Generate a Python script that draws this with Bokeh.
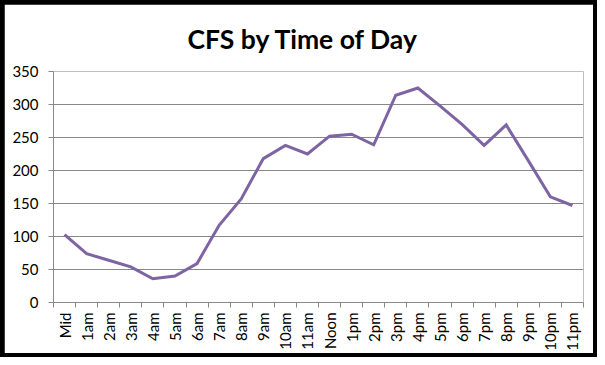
import math
from bokeh.plotting import figure
from bokeh.layouts import column
from bokeh.models import Range1d, FixedTicker
from bokeh.embed import file_html
from bokeh.resources import INLINE

hours = ["Mid", "1am", "2am", "3am", "4am", "5am", "6am", "7am", "8am", "9am",
         "10am", "11am", "Noon", "1pm", "2pm", "3pm", "4pm", "5pm", "6pm",
         "7pm", "8pm", "9pm", "10pm", "11pm"]
cfs = [103, 74, 64, 54, 36, 40, 59, 117, 157, 218, 238, 225, 252, 255, 239,
       314, 325, 298, 270, 238, 269, 215, 160, 147]
y_ticks = [0, 50, 100, 150, 200, 250, 300, 350]

xs = [i + 0.5 for i in range(len(hours))]

W, H = 589, 349
p = figure(width=W, height=H, output_backend="svg", toolbar_location=None,
           x_range=Range1d(0, len(hours)), y_range=Range1d(0, 350),
           min_border_left=49, min_border_right=10, min_border_top=67,
           min_border_bottom=51, margin=(4, 4, 4, 4))

p.title.text = "CFS by Time of Day"
p.title.text_font = "Lato"
p.title.text_font_style = "bold"
p.title.text_font_size = "26.5px"
p.title.align = "left"
p.title.offset = 134
p.title.standoff = 33
p.title.text_color = "black"

p.outline_line_color = None
p.xgrid.grid_line_color = None
p.ygrid.grid_line_color = "#888888"
p.ygrid.grid_line_width = 1

p.yaxis.ticker = FixedTicker(ticks=y_ticks)
p.yaxis.axis_line_color = "#888888"
p.yaxis.major_tick_line_color = "#888888"
p.yaxis.major_tick_out = 5
p.yaxis.major_tick_in = 0
p.yaxis.minor_tick_line_color = None
p.yaxis.major_label_text_font = "Lato"
p.yaxis.major_label_text_font_size = "15px"
p.yaxis.major_label_text_color = "black"
p.yaxis.major_label_standoff = 10

p.xaxis.ticker = FixedTicker(ticks=xs, minor_ticks=list(range(len(hours) + 1)))
p.xaxis.major_label_overrides = {x: h for x, h in zip(xs, hours)}
p.xaxis.axis_line_color = "#888888"
p.xaxis.major_tick_line_color = None
p.xaxis.minor_tick_line_color = "#888888"
p.xaxis.minor_tick_out = 5
p.xaxis.minor_tick_in = 0
p.xaxis.major_label_orientation = math.pi / 2
p.xaxis.major_label_text_font = "Lato"
p.xaxis.major_label_text_font_size = "15px"
p.xaxis.major_label_text_color = "black"
p.xaxis.major_label_standoff = 4

p.line(xs, cfs, line_color="#7E64A3", line_width=3, line_join="miter")

layout = column(p, styles={"background-color": "black"})

open("out.html", "w").write(file_html(layout, INLINE))
